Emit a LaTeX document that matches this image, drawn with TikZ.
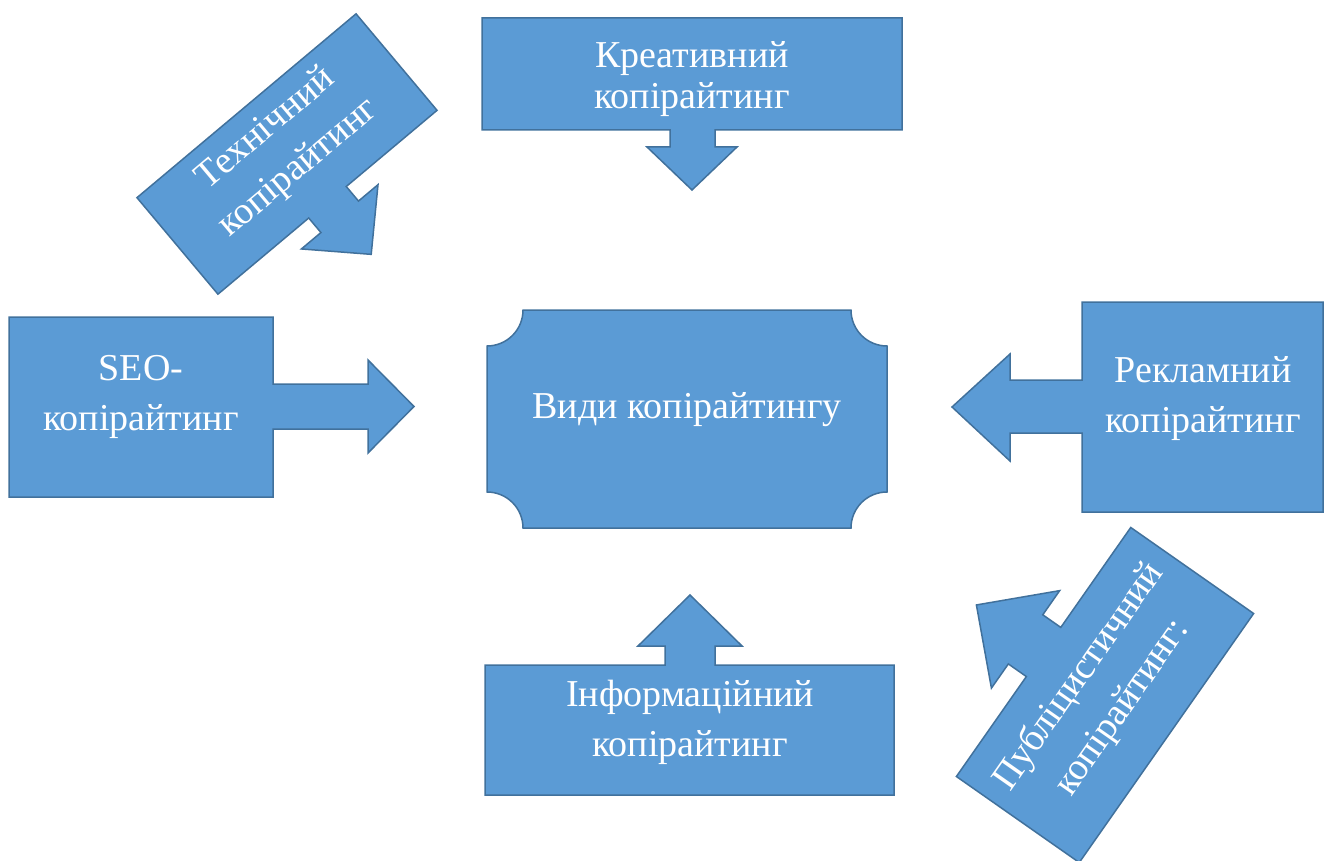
\documentclass[tikz,border=0pt]{standalone}
\usepackage{fontspec}
\setmainfont{Liberation Serif}
\definecolor{fillblue}{HTML}{5B9BD5}
\definecolor{edgeblue}{HTML}{41719C}
\tikzset{
  shapebox/.style={fill=fillblue, draw=edgeblue, line width=1.5pt, line join=miter},
  lbl/.style={text=white, align=center, font=\fontsize{38}{50}\selectfont, inner sep=0pt},
}
\begin{document}
\begin{tikzpicture}[x=1pt,y=-1pt]
\useasboundingbox (0,0) rectangle (1330,861);

% central plaque
\draw[shapebox] (523,310) -- (851,310)
  arc[start angle=180,end angle=270,radius=36pt] -- (887,492)
  arc[start angle=90,end angle=180,radius=36pt] -- (523,528)
  arc[start angle=0,end angle=90,radius=36pt] -- (487,346)
  arc[start angle=270,end angle=360,radius=36pt] -- cycle;
\node[lbl] (center) at (687,410) {Види копірайтингу};

% top: creative
\draw[shapebox] (482,18) -- (902,18) -- (902,130) -- (715,130) -- (715,147) -- (737,147)
  -- (692,190) -- (647,147) -- (670,147) -- (670,130) -- (482,130) -- cycle;
\node[lbl, font=\fontsize{38}{41}\selectfont] (creative) at (692,79) {Креативний\\копірайтинг};

% left: SEO
\draw[shapebox] (9,317) -- (273,317) -- (273,384) -- (368,384) -- (368,360) -- (414,406.5)
  -- (368,453) -- (368,429) -- (273,429) -- (273,497) -- (9,497) -- cycle;
\node[lbl] (seo) at (141,397) {SEO-\\копірайтинг};

% right: advertising
\draw[shapebox] (1323,302) -- (1323,512) -- (1082,512) -- (1082,433) -- (1010,433) -- (1010,461)
  -- (952,407) -- (1010,354) -- (1010,380) -- (1082,380) -- (1082,302) -- cycle;
\node[lbl] (adv) at (1203,399) {Рекламний\\копірайтинг};

% bottom: informational
\draw[shapebox] (485,665) -- (665,665) -- (665,646) -- (638,646) -- (690,595) -- (742,646)
  -- (715,646) -- (715,665) -- (894,665) -- (894,795) -- (485,795) -- cycle;
\node[lbl] (info) at (690,722) {Інформаційний\\копірайтинг};

% rotated: technical
\begin{scope}[shift={(287,154)}, rotate=40]
\draw[shapebox] (-143,-63) -- (143,-63) -- (143,63) -- (24.5,63) -- (24.5,82) -- (50,82)
  -- (0,131) -- (-50,82) -- (-24.5,82) -- (-24.5,63) -- (-143,63) -- cycle;
\node[lbl, rotate=40, font=\fontsize{38}{51}\selectfont] (tech) at (0,-7) {Технічний\\копірайтинг};
\end{scope}

% rotated: publicistic
\begin{scope}[shift={(1105,695)}, rotate=55]
\draw[shapebox] (-152,-75) -- (-30,-75) -- (-30,-97) -- (-59.5,-97) -- (0,-157) -- (59.5,-97)
  -- (30,-97) -- (30,-75) -- (152,-75) -- (152,75) -- (-152,75) -- cycle;
\node[lbl, rotate=55, font=\fontsize{38}{53}\selectfont] (pub) at (0,-5) {Публіцистичний\\копірайтинг:};
\end{scope}
\end{tikzpicture}
\end{document}
